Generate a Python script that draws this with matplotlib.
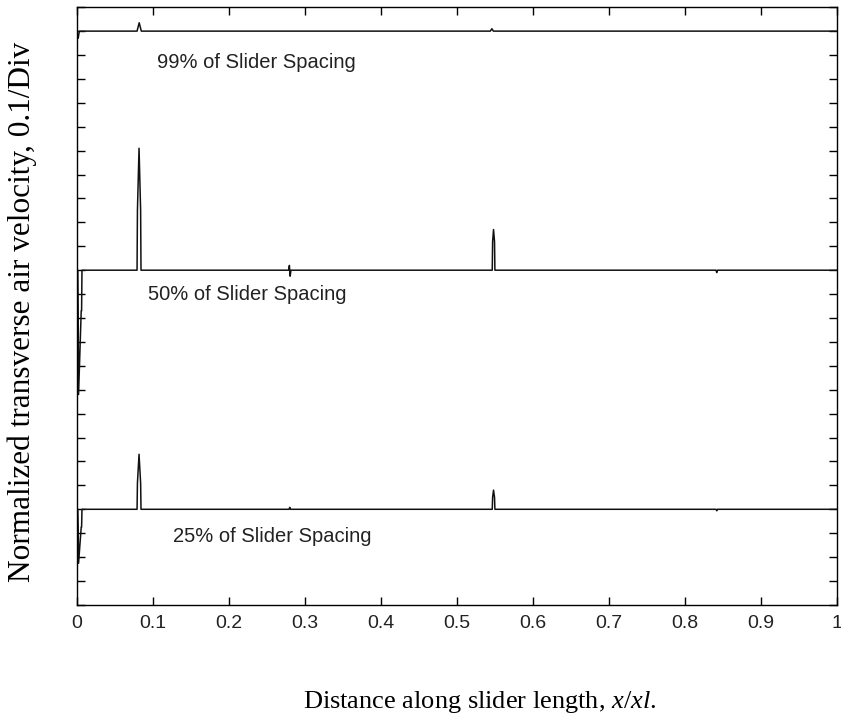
import numpy as np
from matplotlib import pyplot as plt
from matplotlib.ticker import MultipleLocator, NullFormatter

plt.rcParams['mathtext.fontset'] = 'custom'
plt.rcParams['mathtext.rm'] = 'Liberation Serif'
plt.rcParams['mathtext.it'] = 'Liberation Serif:italic'

# posição ao longo do slider (x/xl) e velocidade normalizada em torno da linha de base
x_99 = [0.0, 0.0008, 0.0015, 0.003, 0.0790, 0.0818, 0.0846, 0.5440, 0.5460, 0.5480, 1.0]
v_99 = [0.0, -0.03, -0.03, 0.0, 0.0, 0.035, 0.0, 0.0, 0.01, 0.0, 0.0]

x_50 = [0.0, 0.0010, 0.0015, 0.0020, 0.0055, 0.0060, 0.0065,
        0.0790, 0.0795, 0.0816, 0.0837, 0.0842,
        0.2785, 0.2795, 0.2805, 0.2815,
        0.5465, 0.5470, 0.5482, 0.5495, 0.5500,
        0.8410, 0.8420, 0.8430, 1.0]
v_50 = [0.0, 0.0, -0.17, -0.52, -0.17, -0.17, 0.0,
        0.0, 0.25, 0.51, 0.25, 0.0,
        0.0, 0.02, -0.025, 0.0,
        0.0, 0.12, 0.17, 0.12, 0.0,
        0.0, -0.01, 0.0, 0.0]

x_25 = [0.0, 0.0010, 0.0015, 0.0020, 0.0055, 0.0060, 0.0065,
        0.0790, 0.0795, 0.0816, 0.0837, 0.0842,
        0.2790, 0.2800, 0.2810,
        0.5465, 0.5470, 0.5482, 0.5495, 0.5500,
        0.8410, 0.8420, 0.8430, 1.0]
v_25 = [0.0, 0.0, -0.075, -0.226, -0.075, -0.075, 0.0,
        0.0, 0.11, 0.23, 0.11, 0.0,
        0.0, 0.008, 0.0,
        0.0, 0.05, 0.08, 0.05, 0.0,
        0.0, -0.006, 0.0, 0.0]

# cada curva é deslocada 1 divisão grande (10 x 0.1) em relação à anterior
curvas = [
    (x_99, v_99, 2.0, '99% of Slider Spacing', (0.105, 1.87)),
    (x_50, v_50, 1.0, '50% of Slider Spacing', (0.094, 0.90)),
    (x_25, v_25, 0.0, '25% of Slider Spacing', (0.126, -0.115)),
]

fig = plt.figure(figsize=(8.41, 7.21), dpi=100)
ax = fig.add_axes([0.0916, 0.161, 0.9034, 0.829])

for xs, vs, base, rotulo, pos in curvas:
    ax.plot(xs, np.array(vs) + base, color='#111111', lw=1.1)
    ax.text(pos[0], pos[1], rotulo, fontsize=14.5, family='Liberation Sans',
            ha='left', va='center', color='#222222')

ax.set_xlim(0, 1)
ax.set_ylim(-0.4, 2.1)
ax.yaxis.set_major_locator(MultipleLocator(0.1))
ax.yaxis.set_major_formatter(NullFormatter())
ax.set_xticks(np.round(np.arange(0, 1.01, 0.1), 1))
ax.set_xticklabels(['0', '0.1', '0.2', '0.3', '0.4', '0.5', '0.6', '0.7', '0.8', '0.9', '1'],
                   fontsize=14, family='Liberation Sans', color='#222222')
ax.tick_params(direction='in', length=6, width=1, top=True, right=True, pad=7)
for s in ax.spines.values():
    s.set_linewidth(1)

ax.set_xlabel('Distance along slider length, $\\mathit{x/xl}$.', fontsize=19,
              family='Liberation Serif')
ax.xaxis.set_label_coords(0.53, -0.14)
ax.set_ylabel('Normalized transverse air velocity, 0.1/Div', fontsize=22.5,
              family='Liberation Serif', va='center')
ax.yaxis.set_label_coords(-0.072, 0.49)

fig.savefig('out.png', dpi=100)
